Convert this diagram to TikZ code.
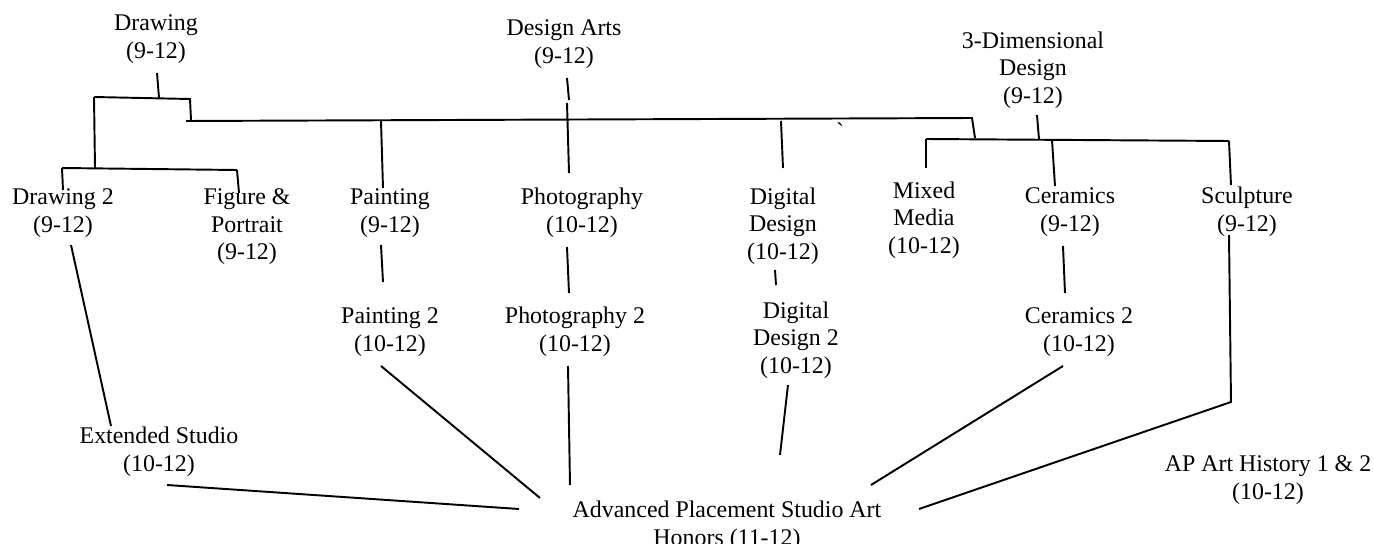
\documentclass[tikz,border=0pt]{standalone}
\usepackage{fontspec}
\setmainfont{Liberation Serif}
\newfontfamily\plainserif{Liberation Serif}
\tikzset{
  course/.style={align=center,inner sep=0pt,font=\fontsize{13.6}{15.7}\selectfont},
  link/.style={line width=1.1pt},
}
\begin{document}
\begin{tikzpicture}[x=0.02cm,y=-0.02cm]
                \useasboundingbox (0,0) rectangle (1374,544);
                %% first year courses
                \node[course] (drawing) at (156,39) {Drawing\\(9-12)};
                \node[course] (design) at (564,44) {Design Arts\\(9-12)};
                \node[course] (threed) at (1033,70) {3-Dimensional\\Design\\(9-12)};
                %% second row
                \node[course] (drawtwo) at (63,213) {Drawing 2\\(9-12)};
                \node[course] (figure) at (247,227) {Figure \&\\Portrait\\(9-12)};
                \node[course] (paint) at (390,213) {Painting\\(9-12)};
                \node[course] (photo) at (582,213) {Photography\\(10-12)};
                \node[course] (digital) at (783,226) {Digital\\Design\\(10-12)};
                \node[course] (mixed) at (924,220) {Mixed\\Media\\(10-12)};
                \node[course] (ceram) at (1070,212) {Ceramics\\(9-12)};
                \node[course] (sculpt) at (1247,212) {Sculpture\\(9-12)};
                %% third row
                \node[course] (painttwo) at (390,332) {Painting 2\\(10-12)};
                \node[course] (phototwo) at (575,332) {Photography 2\\(10-12)};
                \node[course] (digitaltwo) at (796,340) {Digital\\Design 2\\(10-12)};
                \node[course] (ceramtwo) at (1079,332) {Ceramics 2\\(10-12)};
                \node[course] (ext) at (159,452) {Extended Studio\\(10-12)};
                \node[course] (aphist) at (1268,480) {AP Art History 1 \& 2\\(10-12)};
                \node[course,anchor=north] (ap) at (727,501) {Advanced Placement Studio Art\\Honors (11-12)};
                \node[inner sep=0pt,font=\plainserif\fontsize{13.6}{15.7}\selectfont] (tick) at (840,131) {`};
                %% junctions on the bars
                \coordinate (dl) at (94,97);
                \coordinate (dj) at (159,98);
                \coordinate (dr) at (190,99);
                \coordinate (ds) at (191,120);
                \coordinate (bl) at (62,168);
                \coordinate (bm) at (95,168);
                \coordinate (br) at (237,170);
                \coordinate (ml) at (186,121);
                \coordinate (mp) at (381,121);
                \coordinate (md) at (781,121);
                \coordinate (mr) at (972,118);
                \coordinate (tj) at (975,138);
                \coordinate (tl) at (926,139);
                \coordinate (tt) at (1039,139);
                \coordinate (tc) at (1052,140);
                \coordinate (tr) at (1229,141);
                \coordinate (sb) at (1231,402);
                %% bars
                \draw[link] (dl) -- (dr) -- (ds);
                \draw[link] (dl) -- (bm);
                \draw[link] (bl) -- (br);
                \draw[link] (ml) -- (mr) -- (tj);
                \draw[link] (tl) -- (tr);
                %% stems from the first year
                \draw[link] ([shift={(1,34)}]drawing.center) -- (dj);
                \draw[link] ([shift={(3,34)}]design.center) -- ([shift={(5,56)}]design.center);
                \draw[link] ([shift={(3,59)}]design.center) -- ([shift={(-13,-40)}]photo.center);
                \draw[link] ([shift={(4,45)}]threed.center) -- (tt);
                \draw[link] (bl) -- ([shift={(0,-23)}]drawtwo.center);
                \draw[link] (br) -- ([shift={(-8,-34)}]figure.center);
                \draw[link] (mp) -- ([shift={(-7,-25)}]paint.center);
                \draw[link] (md) -- ([shift={(0,-58)}]digital.center);
                \draw[link] (tl) -- ([shift={(2,-52)}]mixed.center);
                \draw[link] (tc) -- ([shift={(-15,-26)}]ceram.center);
                \draw[link] (tr) -- ([shift={(-16,-27)}]sculpt.center);
                %% second year
                \draw[link] ([shift={(8,32)}]drawtwo.center) -- ([shift={(-48,-26)}]ext.center);
                \draw[link] ([shift={(-9,32)}]paint.center) -- ([shift={(-7,-50)}]painttwo.center);
                \draw[link] ([shift={(-15,34)}]photo.center) -- ([shift={(-6,-39)}]phototwo.center);
                \draw[link] ([shift={(-8,44)}]digital.center) -- ([shift={(-20,-55)}]digitaltwo.center);
                \draw[link] ([shift={(-7,34)}]ceram.center) -- ([shift={(-14,-39)}]ceramtwo.center);
                %% into the AP studio
                \draw[link] ([shift={(8,33)}]ext.center) -- ([shift={(-208,8)}]ap.north);
                \draw[link] ([shift={(-9,34)}]painttwo.center) -- ([shift={(-187,-3)}]ap.north);
                \draw[link] ([shift={(-7,34)}]phototwo.center) -- ([shift={(-157,-16)}]ap.north);
                \draw[link] ([shift={(-8,45)}]digitaltwo.center) -- ([shift={(53,-46)}]ap.north);
                \draw[link] ([shift={(-16,34)}]ceramtwo.center) -- ([shift={(144,-16)}]ap.north);
                \draw[link] ([shift={(-18,23)}]sculpt.center) -- (sb) -- ([shift={(192,8)}]ap.north);
            \end{tikzpicture}
\end{document}
